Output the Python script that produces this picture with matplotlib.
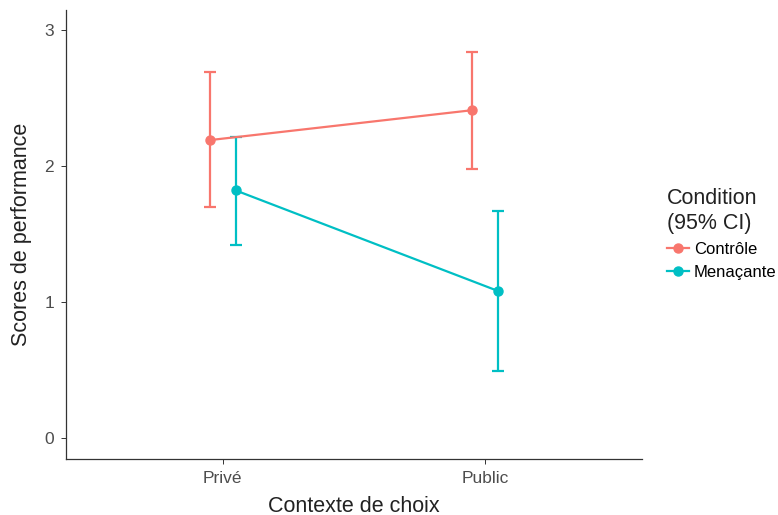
import matplotlib.pyplot as plt
from matplotlib.lines import Line2D

plt.rcParams['font.family'] = ['Liberation Sans', 'DejaVu Sans']

contexts = ['Privé', 'Public']
conditions = ['Contrôle', 'Menaçante']
colors = ['#F8766D', '#00BFC4']

controle_mean = [2.19, 2.41]
controle_low = [1.70, 1.98]
controle_high = [2.69, 2.84]

menacante_mean = [1.82, 1.08]
menacante_low = [1.42, 0.49]
menacante_high = [2.21, 1.67]

means = [controle_mean, menacante_mean]
lows = [controle_low, menacante_low]
highs = [controle_high, menacante_high]
dodge = [-0.05, 0.05]

fig = plt.figure(figsize=(7.78, 5.15), dpi=100)
ax = fig.add_axes([0.0848, 0.1087, 0.7402, 0.8719])

handles = []
for i, cond in enumerate(conditions):
    xs = [k + 1 + dodge[i] for k in range(len(contexts))]
    m = means[i]
    err = [[m[k] - lows[i][k] for k in range(len(m))],
           [highs[i][k] - m[k] for k in range(len(m))]]
    ax.errorbar(xs, m, yerr=err, color=colors[i], lw=1.6, elinewidth=1.6,
                capsize=4.5, capthick=1.6, marker='o', markersize=6.5,
                zorder=3 - i)
    handles.append(Line2D([], [], color=colors[i], lw=1.6, marker='o',
                          markersize=6.5, label=cond))

ax.set_xlim(0.403, 2.597)
ax.set_ylim(-0.155, 3.147)
ax.set_xticks([1, 2])
ax.set_xticklabels(contexts)
ax.set_yticks([0, 1, 2, 3])

for s in ['top', 'right']:
    ax.spines[s].set_visible(False)
for s in ['left', 'bottom']:
    ax.spines[s].set_color('#333333')
    ax.spines[s].set_linewidth(0.9)
ax.tick_params(colors='#4D4D4D', labelsize=12.5, length=3.5, width=0.7, pad=5)
ax.tick_params(axis='both', color='#333333')

ax.set_xlabel('Contexte de choix', fontsize=15.5, color='#222222', labelpad=7)
ax.set_ylabel('Scores de performance', fontsize=15.5, color='#222222', labelpad=9)

leg = fig.legend(handles=handles, title='Condition\n(95% CI)', loc='center left',
                 bbox_to_anchor=(667 / 778, 0.545), frameon=False, fontsize=12,
                 title_fontsize=15.5, handlelength=1.3, handletextpad=0.3,
                 labelspacing=0.5, alignment='left', borderaxespad=0,
                 borderpad=0)
leg.get_title().set_color('#222222')

fig.savefig('out.png', dpi=100)
